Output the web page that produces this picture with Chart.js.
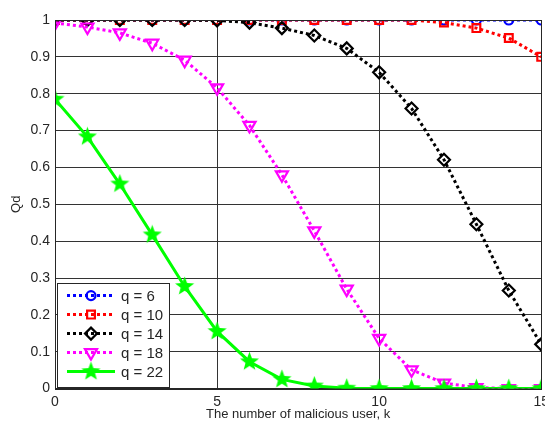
<!DOCTYPE html>
<html>
<head>
<meta charset="utf-8">
<script src="https://cdn.jsdelivr.net/npm/chart.js@4/dist/chart.umd.min.js"></script>
<style>
  html, body { margin: 0; padding: 0; background: #fff; }
  #wrap { width: 545px; height: 426px; overflow: hidden; }
</style>
</head>
<body>
<div id="wrap"><canvas id="chart" width="554" height="426"></canvas></div>
<script>
// values
const kValues = [0, 1, 2, 3, 4, 5, 6, 7, 8, 9, 10, 11, 12, 13, 14, 15];
const seriesLabels = ['q = 6', 'q = 10', 'q = 14', 'q = 18', 'q = 22'];
const q6 = [1, 1, 1, 1, 1, 1, 1, 1, 1, 1, 1, 1, 1, 1, 1, 1];
const q10 = [1, 1, 1, 1, 1, 1, 1, 1, 1, 1, 1, 1, 0.993, 0.978, 0.951, 0.9];
const q14 = [1, 1, 1, 1, 1, 0.999, 0.993, 0.978, 0.958, 0.923, 0.858, 0.76, 0.621, 0.446, 0.266, 0.12];
const q18 = [0.992, 0.981, 0.965, 0.937, 0.891, 0.816, 0.714, 0.58, 0.428, 0.27, 0.136, 0.051, 0.015, 0.003, 0, 0];
const q22 = [0.785, 0.683, 0.555, 0.417, 0.277, 0.155, 0.073, 0.025, 0.007, 0.001, 0, 0, 0, 0, 0, 0];
const xTicks = [0, 5, 10, 15];
const yTicks = [0, 0.1, 0.2, 0.3, 0.4, 0.5, 0.6, 0.7, 0.8, 0.9, 1];

const FONT = 'Liberation Sans, Arial, sans-serif';

// filled five point star for the q = 22 markers
function makeStar(size, color) {
    const c = document.createElement('canvas');
    c.width = size; c.height = size;
    const g = c.getContext('2d');
    const cx = size / 2, cy = size / 2, R = size / 2 - 0.5, r = R * 0.42;
    g.beginPath();
    for (let i = 0; i < 10; i++) {
        const rad = i % 2 === 0 ? R : r;
        const a = -Math.PI / 2 + i * Math.PI / 5;
        const x = cx + rad * Math.cos(a), y = cy + rad * Math.sin(a);
        if (i === 0) g.moveTo(x, y); else g.lineTo(x, y);
    }
    g.closePath();
    g.fillStyle = color;
    g.fill();
    return c;
}
const star = makeStar(21, '#00ff00');

function toPts(arr) {
    return arr.map((v, i) => ({ x: kValues[i], y: v }));
}

const styles = [
    { color: '#0000ff', pointStyle: 'circle', radius: 4.5, rotation: 0, dash: [3, 3] },
    { color: '#ff0000', pointStyle: 'rect', radius: 5.5, rotation: 0, dash: [3, 3] },
    { color: '#000000', pointStyle: 'rectRot', radius: 6, rotation: 0, dash: [3, 3] },
    { color: '#ff00ff', pointStyle: 'triangle', radius: 7, rotation: 180, dash: [3, 3] },
    { color: '#00ff00', pointStyle: star, radius: 10, rotation: 0, dash: [] }
];
const allSeries = [q6, q10, q14, q18, q22];

const datasets = allSeries.map((s, i) => ({
    label: seriesLabels[i],
    data: toPts(s),
    borderColor: styles[i].color,
    backgroundColor: '#ffffff',
    borderWidth: 3,
    borderDash: styles[i].dash,
    pointStyle: styles[i].pointStyle,
    pointRadius: styles[i].radius,
    pointRotation: styles[i].rotation,
    pointBorderColor: styles[i].color,
    pointBackgroundColor: 'rgba(0,0,0,0)',
    pointBorderWidth: 2.2,
    tension: 0,
    fill: false,
    order: 5 - i
}));

// box around the plot and a MATLAB-style legend in the lower left corner
const boxLegend = {
    id: 'boxLegend',
    afterDraw(chart) {
        const ctx = chart.ctx;
        const a = chart.chartArea;
        ctx.save();
        ctx.strokeStyle = '#262626';
        ctx.lineWidth = 1;
        ctx.strokeRect(Math.round(a.left) + 0.5, Math.round(a.top) + 0.5,
            Math.round(a.right - a.left), Math.round(a.bottom - a.top));

        const lx = a.left + 2, ly = a.bottom - 106, lw = 112, lh = 104;
        ctx.fillStyle = '#fff';
        ctx.fillRect(lx, ly, lw, lh);
        ctx.strokeStyle = '#262626';
        ctx.lineWidth = 1;
        ctx.strokeRect(Math.round(lx) + 0.5, Math.round(ly) + 0.5, lw, lh);

        chart.data.datasets.forEach((ds, i) => {
            const y = ly + 13 + i * 19;
            const x0 = lx + 10, x1 = lx + 58;
            ctx.setLineDash(ds.borderDash);
            ctx.strokeStyle = ds.borderColor;
            ctx.lineWidth = 3;
            ctx.beginPath();
            ctx.moveTo(x0, y);
            ctx.lineTo(x1, y);
            ctx.stroke();
            ctx.setLineDash([]);
            ctx.strokeStyle = ds.pointBorderColor;
            ctx.fillStyle = 'rgba(0,0,0,0)';
            ctx.lineWidth = ds.pointBorderWidth;
            Chart.helpers.drawPoint(ctx, {
                pointStyle: ds.pointStyle,
                radius: ds.pointRadius,
                rotation: ds.pointRotation,
                borderWidth: ds.pointBorderWidth
            }, (x0 + x1) / 2, y);
            ctx.fillStyle = '#262626';
            ctx.font = '15px ' + FONT;
            ctx.textBaseline = 'middle';
            ctx.textAlign = 'left';
            ctx.fillText(ds.label, x1 + 6, y + 1);
        });
        ctx.restore();
    }
};

new Chart(document.getElementById('chart'), {
    type: 'line',
    data: { datasets: datasets },
    plugins: [boxLegend],
    options: {
        responsive: false,
        animation: false,
        layout: { padding: { top: 20, right: 5, bottom: 4, left: 0 } },
        plugins: {
            legend: { display: false },
            tooltip: { enabled: false }
        },
        scales: {
            x: {
                type: 'linear',
                min: 0,
                max: 15,
                afterBuildTicks(s) { s.ticks = xTicks.map(v => ({ value: v })); },
                grid: { color: '#333', lineWidth: 1, drawTicks: false },
                border: { color: '#262626' },
                ticks: {
                    color: '#262626',
                    font: { family: FONT, size: 14 },
                    padding: 5,
                    maxRotation: 0
                },
                title: {
                    display: true,
                    text: 'The number of malicious user, k',
                    color: '#262626',
                    font: { family: FONT, size: 13 },
                    padding: { top: -9, bottom: 0 }
                }
            },
            y: {
                min: 0,
                max: 1,
                afterFit(s) { s.width = 55; },
                afterBuildTicks(s) { s.ticks = yTicks.map(v => ({ value: v })); },
                grid: { color: '#333', lineWidth: 1, drawTicks: false },
                border: { color: '#262626' },
                ticks: {
                    color: '#262626',
                    font: { family: FONT, size: 14 },
                    padding: 5,
                    callback: v => String(Math.round(v * 10) / 10)
                },
                title: {
                    display: true,
                    text: 'Qd',
                    color: '#262626',
                    font: { family: FONT, size: 13 },
                    padding: { top: 9, bottom: 0 }
                }
            }
        }
    }
});
</script>
</body>
</html>
